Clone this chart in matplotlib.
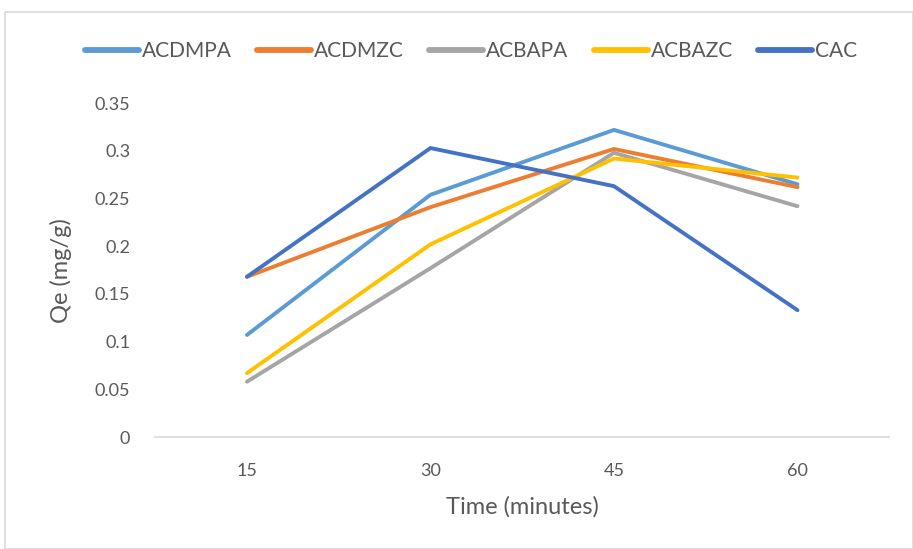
import matplotlib
matplotlib.use("Agg")
import matplotlib.pyplot as plt
from matplotlib.patches import Rectangle

categories = ["15", "30", "45", "60"]
acdmpa = [0.107, 0.254, 0.322, 0.265]
acdmzc = [0.168, 0.241, 0.302, 0.262]
acbapa = [0.058, 0.177, 0.298, 0.242]
acbazc = [0.067, 0.202, 0.292, 0.272]
cac = [0.168, 0.303, 0.263, 0.133]
yticks = [0, 0.05, 0.1, 0.15, 0.2, 0.25, 0.3, 0.35]
ytick_labels = ["0", "0.05", "0.1", "0.15", "0.2", "0.25", "0.3", "0.35"]

series = [
    ("ACDMPA", acdmpa, "#5B9BD5"),
    ("ACDMZC", acdmzc, "#ED7D31"),
    ("ACBAPA", acbapa, "#A5A5A5"),
    ("ACBAZC", acbazc, "#FFC000"),
    ("CAC", cac, "#4472C4"),
]

plt.rcParams['font.family'] = ['Lato', 'DejaVu Sans']
fig = plt.figure(figsize=(9.13, 5.49), dpi=100)
fig.patches.append(Rectangle((0.006, 0.0), 0.994, 0.978, transform=fig.transFigure,
                             fill=False, edgecolor="#D9D9D9", linewidth=1.2))
ax = fig.add_axes([0.170, 0.204, 0.804, 0.608])
x = list(range(len(categories)))
for name, vals, col in series:
    ax.plot(x, vals, color=col, linewidth=2.8, label=name, solid_capstyle='round',
            solid_joinstyle='miter')

ax.set_xlim(-0.5, 3.5)
ax.set_ylim(0, 0.35)
ax.set_xticks(x)
ax.set_xticklabels(categories)
ax.set_yticks(yticks)
ax.set_yticklabels(ytick_labels)
for s in ["top", "right", "left"]:
    ax.spines[s].set_visible(False)
ax.spines["bottom"].set_color("#D9D9D9")
ax.spines["bottom"].set_linewidth(1.2)
ax.tick_params(axis='both', length=0, labelsize=13, labelcolor="#595959")
ax.tick_params(axis='x', pad=19)
ax.tick_params(axis='y', pad=18)
ax.set_xlabel("Time (minutes)", fontsize=17, color="#595959", labelpad=12)
ax.set_ylabel("Qe (mg/g)", fontsize=17, color="#595959", labelpad=16)

leg = fig.legend(loc="center", bbox_to_anchor=(0.516, 0.907), ncol=5, frameon=False,
                 fontsize=15, handlelength=2.6, handletextpad=0.15, columnspacing=1.2)
for t in leg.get_texts():
    t.set_color("#595959")
for h in leg.get_lines():
    h.set_linewidth(4.2)
fig.savefig("out.png", dpi=100)
